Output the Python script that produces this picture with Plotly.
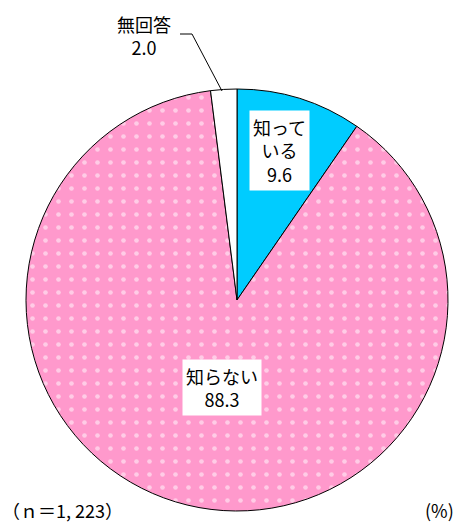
import plotly.graph_objects as go

labels = ["知っている", "知らない", "無回答"]
label_text = ["知って<br>いる<br>9.6", "知らない<br>88.3", "無回答<br>2.0"]
values = [9.6, 88.3, 2.0]
colors = ["#00CCFF", "#FF99CC", "#FFFFFF"]
pattern_shapes = ["", ".", ""]

W, H = 460, 522
cx, cy, r = 237, 300, 211

fig = go.Figure(go.Pie(
    labels=labels, values=values, sort=False, direction="clockwise", rotation=0,
    textinfo="none", hoverinfo="skip", showlegend=False,
    marker=dict(colors=colors, line=dict(color="#000000", width=1),
                pattern=dict(shape=pattern_shapes, fgcolor="#FFFFFF", bgcolor=colors,
                             size=13, solidity=0.1, fillmode="overlay")),
    domain=dict(x=[(cx - r) / W, (cx + r) / W], y=[1 - (cy + r) / H, 1 - (cy - r) / H]),
))

font = dict(family="Noto Sans CJK JP", size=18, color="#000000")
common = dict(xref="paper", yref="paper", showarrow=False, xanchor="center", yanchor="middle")
fig.add_annotation(x=279 / W, y=1 - 150 / H, text=label_text[0],
                   bgcolor="#FFFFFF", borderpad=3, font=font, **common)
fig.add_annotation(x=222 / W, y=1 - 387 / H, text=label_text[1],
                   bgcolor="#FFFFFF", borderpad=3, font=font, **common)
fig.add_annotation(x=144 / W, y=1 - 35 / H, text=label_text[2], font=font, **common)
fig.add_shape(type="path", xref="paper", yref="paper",
              path=f"M {180/W} {1-34/H} L {192/W} {1-34/H} L {222/W} {1-91/H}",
              line=dict(color="#000000", width=1))
small = dict(family="Noto Sans CJK JP", size=18, color="#000000")
fig.add_annotation(x=0 / W, y=1 - 510 / H, xref="paper", yref="paper", text="（ｎ＝1, 223）",
                   showarrow=False, xanchor="left", yanchor="middle", font=small)
fig.add_annotation(x=456 / W, y=1 - 510 / H, xref="paper", yref="paper", text="(%)",
                   showarrow=False, xanchor="right", yanchor="middle", font=small)

fig.update_layout(width=W, height=H, margin=dict(l=0, r=0, t=0, b=0),
                  paper_bgcolor="#FFFFFF", plot_bgcolor="#FFFFFF")
fig.write_html("out.html", config={"displayModeBar": False},
               post_script="document.body.style.margin='0';document.body.style.padding='0';")
